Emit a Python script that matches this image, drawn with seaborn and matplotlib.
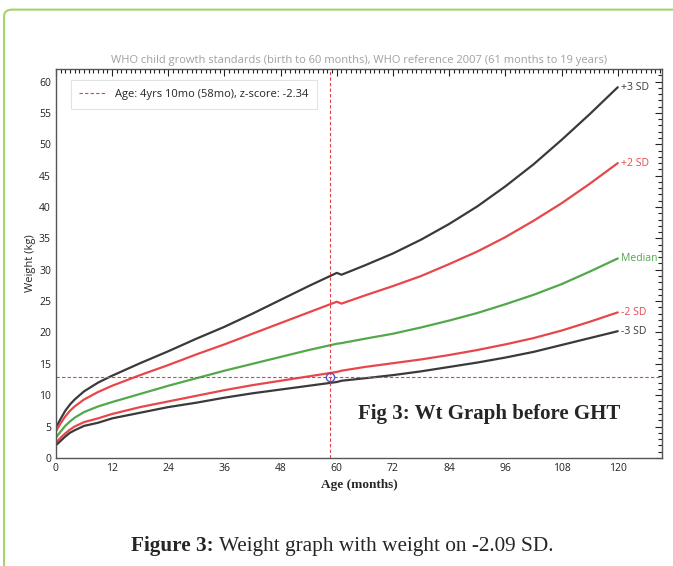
import seaborn as sns
import matplotlib.pyplot as plt
import pandas as pd
from matplotlib.ticker import MultipleLocator
from matplotlib.patches import FancyBboxPatch

months = [0, 1, 2, 3, 4, 6, 9, 12, 18, 24, 30, 36, 42, 48, 54, 60,
          61, 66, 72, 78, 84, 90, 96, 102, 108, 114, 120]

sd_plus3 = [4.8, 6.2, 7.5, 8.5, 9.3, 10.6, 12.0, 13.1, 15.1, 17.0, 19.0, 20.9, 23.0, 25.2, 27.4, 29.5,
            29.2, 30.7, 32.6, 34.8, 37.3, 40.1, 43.3, 46.8, 50.7, 54.8, 59.1]
sd_plus2 = [4.2, 5.5, 6.6, 7.5, 8.2, 9.3, 10.5, 11.5, 13.2, 14.8, 16.5, 18.1, 19.8, 21.5, 23.2, 24.9,
            24.6, 25.9, 27.4, 29.0, 30.9, 32.9, 35.2, 37.8, 40.6, 43.7, 47.0]
median = [3.2, 4.2, 5.1, 5.8, 6.4, 7.3, 8.2, 8.9, 10.2, 11.5, 12.7, 13.9, 15.0, 16.1, 17.2, 18.2,
          18.3, 19.0, 19.8, 20.8, 21.9, 23.1, 24.5, 26.0, 27.7, 29.7, 31.8]
sd_minus2 = [2.4, 3.2, 3.9, 4.5, 5.0, 5.7, 6.3, 7.0, 8.1, 9.0, 9.9, 10.8, 11.6, 12.3, 13.0, 13.7,
             13.9, 14.5, 15.1, 15.7, 16.4, 17.2, 18.1, 19.1, 20.3, 21.7, 23.2]
sd_minus3 = [2.0, 2.7, 3.4, 4.0, 4.4, 5.1, 5.6, 6.3, 7.2, 8.1, 8.8, 9.6, 10.3, 10.9, 11.5, 12.1,
             12.3, 12.7, 13.2, 13.8, 14.5, 15.2, 16.0, 16.9, 18.0, 19.1, 20.2]

curve_names = ['+3 SD', '+2 SD', 'Median', '-2 SD', '-3 SD']
curve_colors = ['#3a3a3a', '#e8474a', '#52a84a', '#e8474a', '#3a3a3a']

# patient point
pt_age = 58.6
pt_weight = 12.9

df = pd.concat([
    pd.DataFrame({'age': months, 'weight': vals, 'curve': name})
    for name, vals in zip(curve_names, [sd_plus3, sd_plus2, median, sd_minus2, sd_minus3])
])

sns.set_style('white')
plt.rcParams['font.family'] = ['Open Sans', 'DejaVu Sans']

fig = plt.figure(figsize=(6.73, 5.66), dpi=100)
ax = fig.add_axes([0.083, 0.191, 0.901, 0.687])

sns.lineplot(data=df, x='age', y='weight', hue='curve', hue_order=curve_names,
             palette=dict(zip(curve_names, curve_colors)), linewidth=1.6,
             legend=False, ax=ax)

# reference lines through the child's measurement
ax.axvline(pt_age, color='#d9434a', linestyle=(0, (3, 2)), linewidth=0.8,
           label='Age: 4yrs 10mo (58mo), z-score: -2.34')
ax.axhline(pt_weight, color='#d9434a', linestyle=(0, (3, 2)), linewidth=0.8)
ax.plot([pt_age], [pt_weight], 'o', mfc='none', mec='#5a4fc8', ms=6, mew=1)

# curve labels at the right end
for name, col, vals in zip(curve_names, curve_colors,
                           [sd_plus3, sd_plus2, median, sd_minus2, sd_minus3]):
    ax.text(months[-1] + 0.8, vals[-1], name, color=col, fontsize=7.5,
            va='center', ha='left', clip_on=True)

ax.text(92.5, 7.0, 'Fig 3: Wt Graph before GHT', fontsize=15, fontweight='bold',
        family='Liberation Serif', ha='center', va='center')

ax.set_xlim(0, 129.5)
ax.set_ylim(0, 62)
ax.xaxis.set_major_locator(MultipleLocator(12))
ax.xaxis.set_minor_locator(MultipleLocator(1))
ax.yaxis.set_major_locator(MultipleLocator(5))
ax.yaxis.set_minor_locator(MultipleLocator(1))
ax.tick_params(which='both', direction='in', top=True, right=True,
               labelsize=7.5, colors='#222222', width=0.8)
ax.tick_params(which='major', length=5)
ax.tick_params(which='minor', length=3)
for s in ax.spines.values():
    s.set_color('#555555')
    s.set_linewidth(1.0)

ax.set_xlabel('Age (months)', family='Liberation Serif', fontweight='bold', fontsize=9.5)
ax.set_ylabel('Weight (kg)', fontsize=8, labelpad=2)
ax.set_title('WHO child growth standards (birth to 60 months), WHO reference 2007 (61 months to 19 years)',
             fontsize=8, color='#a0a0a0', pad=4)

leg = ax.legend(loc='upper left', fontsize=8, frameon=True, fancybox=False,
                borderpad=0.8, handlelength=2.4, bbox_to_anchor=(0.015, 0.985))
leg.get_frame().set_edgecolor('#dddddd')
leg.get_frame().set_linewidth(0.8)

# green page frame
fig.patches.append(FancyBboxPatch((0.006, -0.2), 1.2, 1.183, boxstyle='round,pad=0,rounding_size=0.012',
                                  transform=fig.transFigure, fill=False,
                                  edgecolor='#a3d46a', linewidth=1.5))

# caption
fig.text(0.3175, 0.035, 'Figure 3:', fontsize=15.3, fontweight='bold', ha='right', va='center',
         family='Liberation Serif')
fig.text(0.3175, 0.035, ' Weight graph with weight on -2.09 SD.', fontsize=15.3, ha='left',
         va='center', family='Liberation Serif')

fig.savefig('out.png', dpi=100)
